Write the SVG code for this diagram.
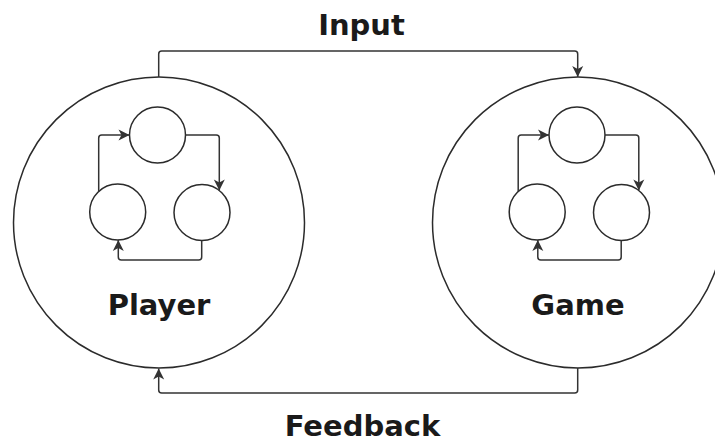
<svg xmlns="http://www.w3.org/2000/svg" width="715" height="445" viewBox="0 0 715 445">
<defs>
<marker id="arr" markerUnits="userSpaceOnUse" markerWidth="13" markerHeight="13" viewBox="0 0 13 13" refX="12" refY="6.5" orient="auto">
<path d="M1,1 L12,6.5 L1,12 L4,6.5 Z" fill="#333"/>
</marker>
<style>
.c{fill:#fff;stroke:#2b2b2b;stroke-width:1.5}
.e{fill:none;stroke:#333;stroke-width:1.5}
.t{font-family:"DejaVu Sans",sans-serif;font-weight:bold;font-size:29px;fill:#1a1a1a;text-anchor:middle}
</style>
</defs>
<rect width="715" height="445" fill="#fff"/>
<g id="player">
<circle class="c" cx="159" cy="222.5" r="145.5"/>
<text class="t" x="159" y="315">Player</text>
</g>
<g id="game">
<circle class="c" cx="578" cy="222.5" r="145.5"/>
<text class="t" x="578" y="315">Game</text>
</g>
<g id="p1"><circle class="c" cx="157.5" cy="135" r="28"/></g>
<g id="p2"><circle class="c" cx="117.7" cy="212" r="28"/></g>
<g id="p3"><circle class="c" cx="202" cy="212.5" r="28"/></g>
<g id="g1"><circle class="c" cx="577" cy="135" r="28"/></g>
<g id="g2"><circle class="c" cx="537.2" cy="212" r="28"/></g>
<g id="g3"><circle class="c" cx="621.5" cy="212.5" r="28"/></g>
<g id="labels">
<text class="t" x="361.5" y="35">Input</text>
<text class="t" x="362.5" y="436">Feedback</text>
</g>
<g id="connectors">
<path class="e" d="M158.7,77 V54 Q158.7,51 161.7,51 H574.7 Q577.7,51 577.7,54 V77" marker-end="url(#arr)"/>
<path class="e" d="M577.7,368 V390 Q577.7,393 574.7,393 H161.7 Q158.7,393 158.7,390 V368.5" marker-end="url(#arr)"/>
<path class="e" d="M98.7,191.5 V138 Q98.7,135 101.7,135 H129.5" marker-end="url(#arr)"/>
<path class="e" d="M185.5,135 H216.3 Q219.3,135 219.3,138 V190.5" marker-end="url(#arr)"/>
<path class="e" d="M201.7,240.5 V257 Q201.7,260 198.7,260 H121.3 Q118.3,260 118.3,257 V240" marker-end="url(#arr)"/>
<path class="e" d="M518.2,191.5 V138 Q518.2,135 521.2,135 H549" marker-end="url(#arr)"/>
<path class="e" d="M605,135 H635.8 Q638.8,135 638.8,138 V190.5" marker-end="url(#arr)"/>
<path class="e" d="M621.2,240.5 V257 Q621.2,260 618.2,260 H540.8 Q537.8,260 537.8,257 V240" marker-end="url(#arr)"/>
</g>
</svg>
